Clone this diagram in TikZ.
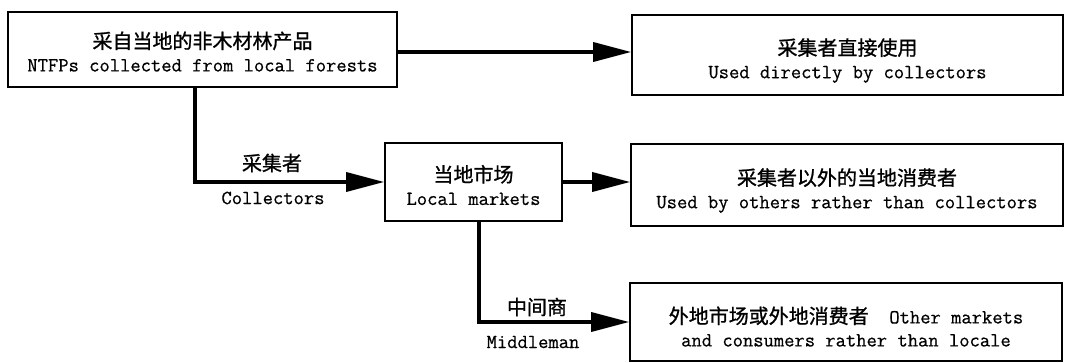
\documentclass[tikz,border=0pt]{standalone}
\usepackage{fontspec}
\newfontfamily\cjk[FakeBold=1]{Noto Sans CJK SC}
\setmonofont[FakeBold=0.6]{Latin Modern Mono}
\usetikzlibrary{arrows.meta}
\newcommand\lowerby[1]{\rule{0pt}{\dimexpr 17pt+#1\relax}}
\begin{document}
\begin{tikzpicture}[x=1pt,y=-1pt,
  box/.style={draw, line width=1.6pt, align=center, inner sep=0pt,
    font=\fontsize{20}{23}\selectfont\ttfamily},
  conn/.style={line width=3.5pt, -{Triangle[length=38pt,width=19pt]}},
  lbl/.style={inner sep=0pt, font=\fontsize{20}{23}\selectfont\ttfamily}]
\useasboundingbox (0,0) rectangle (1066,363);
\node[box, minimum width=389pt, minimum height=75pt] (b1) at (202.5,49.5)
  {\lowerby{4pt}{\cjk 采自当地的非木材林产品}\\NTFPs collected from local forests};
\node[box, minimum width=431pt, minimum height=80pt] (b2) at (847.5,55)
  {\lowerby{11pt}{\cjk 采集者直接使用}\\Used directly by collectors};
\node[box, minimum width=177pt, minimum height=78pt] (lm) at (473.5,182)
  {\lowerby{6pt}{\cjk 当地市场}\\Local markets};
\node[box, minimum width=432pt, minimum height=82pt] (b3) at (847,185)
  {\lowerby{11pt}{\cjk 采集者以外的当地消费者}\\Used by others rather than collectors};
\node[box, minimum width=432pt, minimum height=78pt] (b4) at (846,322)
  {\lowerby{9pt}{\cjk 外地市场或外地消费者}\ \ Other markets\\and consumers rather than locale};
\coordinate (r1) at (0,52);
\coordinate (c1) at (195,0);
\coordinate (c2) at (479,0);
\draw[conn] (b1.east |- r1) -- (b2.west |- r1);
\draw[conn] (b1.south -| c1) |- (lm.west);
\draw[conn] (lm.east) -- (lm.east -| b3.west);
\draw[conn] (lm.south -| c2) |- (b4.west);
\node[lbl] (l1) at (272,163) {\cjk 采集者};
\node[lbl] (l2) at (273,198) {Collectors};
\node[lbl] (l3) at (537,307) {\cjk 中间商};
\node[lbl] (l4) at (533,342) {Middleman};
\end{tikzpicture}
\end{document}
